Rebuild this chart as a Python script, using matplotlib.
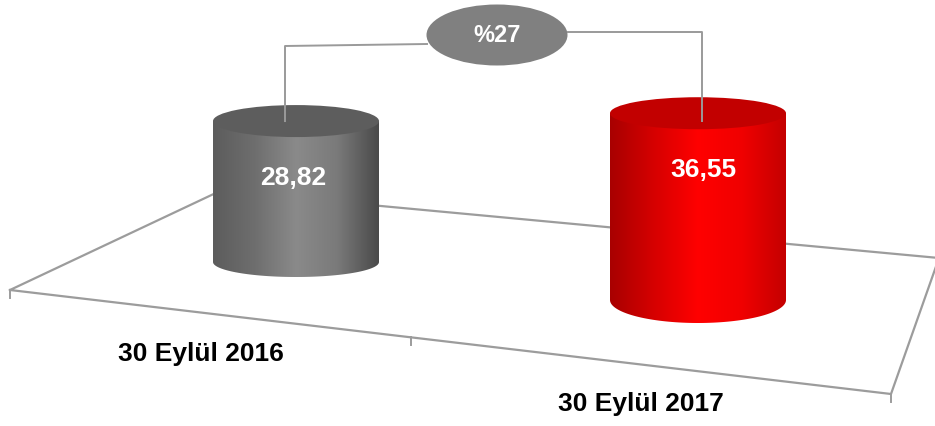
import numpy as np
import matplotlib
matplotlib.use('Agg')
import matplotlib.pyplot as plt
from matplotlib.patches import Ellipse, PathPatch
from matplotlib.path import Path
from matplotlib.colors import LinearSegmentedColormap

# ── data ──────────────────────────────────
categories = ['30 Eylül 2016', '30 Eylül 2017']
values = [28.82, 36.55]
value_labels = ['28,82', '36,55']
change_pct = (values[1] / values[0] - 1) * 100

# ── pseudo-3D layout (pixel space) ────────
W, H = 935, 426
base_x = [296, 698]
base_y = [262, 300]
radius_x = [83, 88]
ry_top = [16, 16]
ry_bot = [15, 23]
depth_scale = [1.0, 1.045]
px_per_unit = 4.89

side_cmaps = [
    LinearSegmentedColormap.from_list('g', ['#5c5c5c', '#6e6e6e', '#8a8a8a', '#7a7a7a', '#4a4a4a'],
                                      N=256),
    LinearSegmentedColormap.from_list('r', ['#a80000', '#d60000', '#ff0000', '#f00000', '#c40000'],
                                      N=256),
]
top_colors = ['#5d5d5d', '#c20000']
floor_color = '#9c9c9c'
conn_color = '#9a9a9a'

fig = plt.figure(figsize=(W / 100, H / 100), dpi=100)
ax = fig.add_axes([0, 0, 1, 1])

# floor
FL, FR, BR, BL = (10, 290), (891, 394), (939, 258), (220, 191)
fx = [FL[0], FR[0], BR[0], BL[0], FL[0]]
fy = [FL[1], FR[1], BR[1], BL[1], FL[1]]
ax.plot(fx, fy, color=floor_color, lw=1.6, zorder=1, solid_joinstyle='miter')
for tx, ty in [(10, 290), (411, 337), (891, 394)]:
    ax.plot([tx, tx], [ty, ty + 8], color=floor_color, lw=1.4, zorder=1)

# cylinders
top_y = []
for i, v in enumerate(values):
    cx, yb, rx = base_x[i], base_y[i], radius_x[i]
    yt = yb - v * px_per_unit * depth_scale[i]
    top_y.append(yt)
    t = np.linspace(np.pi, 0, 80)
    arc_x = cx + rx * np.cos(t)
    arc_y = yb + ry_bot[i] * np.sin(t)
    verts = [(cx - rx, yt)] + list(zip(arc_x, arc_y)) + [(cx + rx, yt), (cx - rx, yt)]
    codes = [Path.MOVETO] + [Path.LINETO] * (len(verts) - 2) + [Path.CLOSEPOLY]
    side = PathPatch(Path(verts, codes), fc='none', ec='none', zorder=2)
    ax.add_patch(side)
    grad = np.linspace(0, 1, 256).reshape(1, -1)
    im = ax.imshow(grad, cmap=side_cmaps[i], aspect='auto',
                   extent=(cx - rx, cx + rx, yb + ry_bot[i] + 2, yt - 2), zorder=2)
    im.set_clip_path(side)
    ax.add_patch(Ellipse((cx, yt), 2 * rx, 2 * ry_top[i], fc=top_colors[i], ec='none', zorder=3))
    ax.text(cx - 3 if i == 0 else cx + 5, yt + 57, value_labels[i], color='white',
            fontsize=19, fontweight='bold', ha='center', va='center',
            family=['Liberation Sans', 'DejaVu Sans'], zorder=6)

# change bubble + connectors
ex, ey = 497, 35
ax.plot([285, 285, 427], [top_y[0], 46, 44], color=conn_color, lw=1.4, zorder=5)
ax.plot([568, 702, 702], [32, 32, top_y[1] + 8], color=conn_color, lw=1.4, zorder=5)
ax.add_patch(Ellipse((ex, ey), 141, 61, fc='#808080', ec='none', zorder=6))
ax.text(ex, ey + 1, f'%{change_pct:.0f}', color='white', fontsize=17, fontweight='bold',
        ha='center', va='center', family=['Liberation Sans', 'DejaVu Sans'], zorder=7)

# category labels
label_pos = [(201, 354), (641, 404)]
for (lx, ly), cat in zip(label_pos, categories):
    ax.text(lx, ly, cat, color='black', fontsize=19, fontweight='bold',
            ha='center', va='center', family=['Liberation Sans', 'DejaVu Sans'], zorder=6)

ax.set_xlim(0, W)
ax.set_ylim(H, 0)
ax.axis('off')

fig.savefig('out.png', dpi=100)
